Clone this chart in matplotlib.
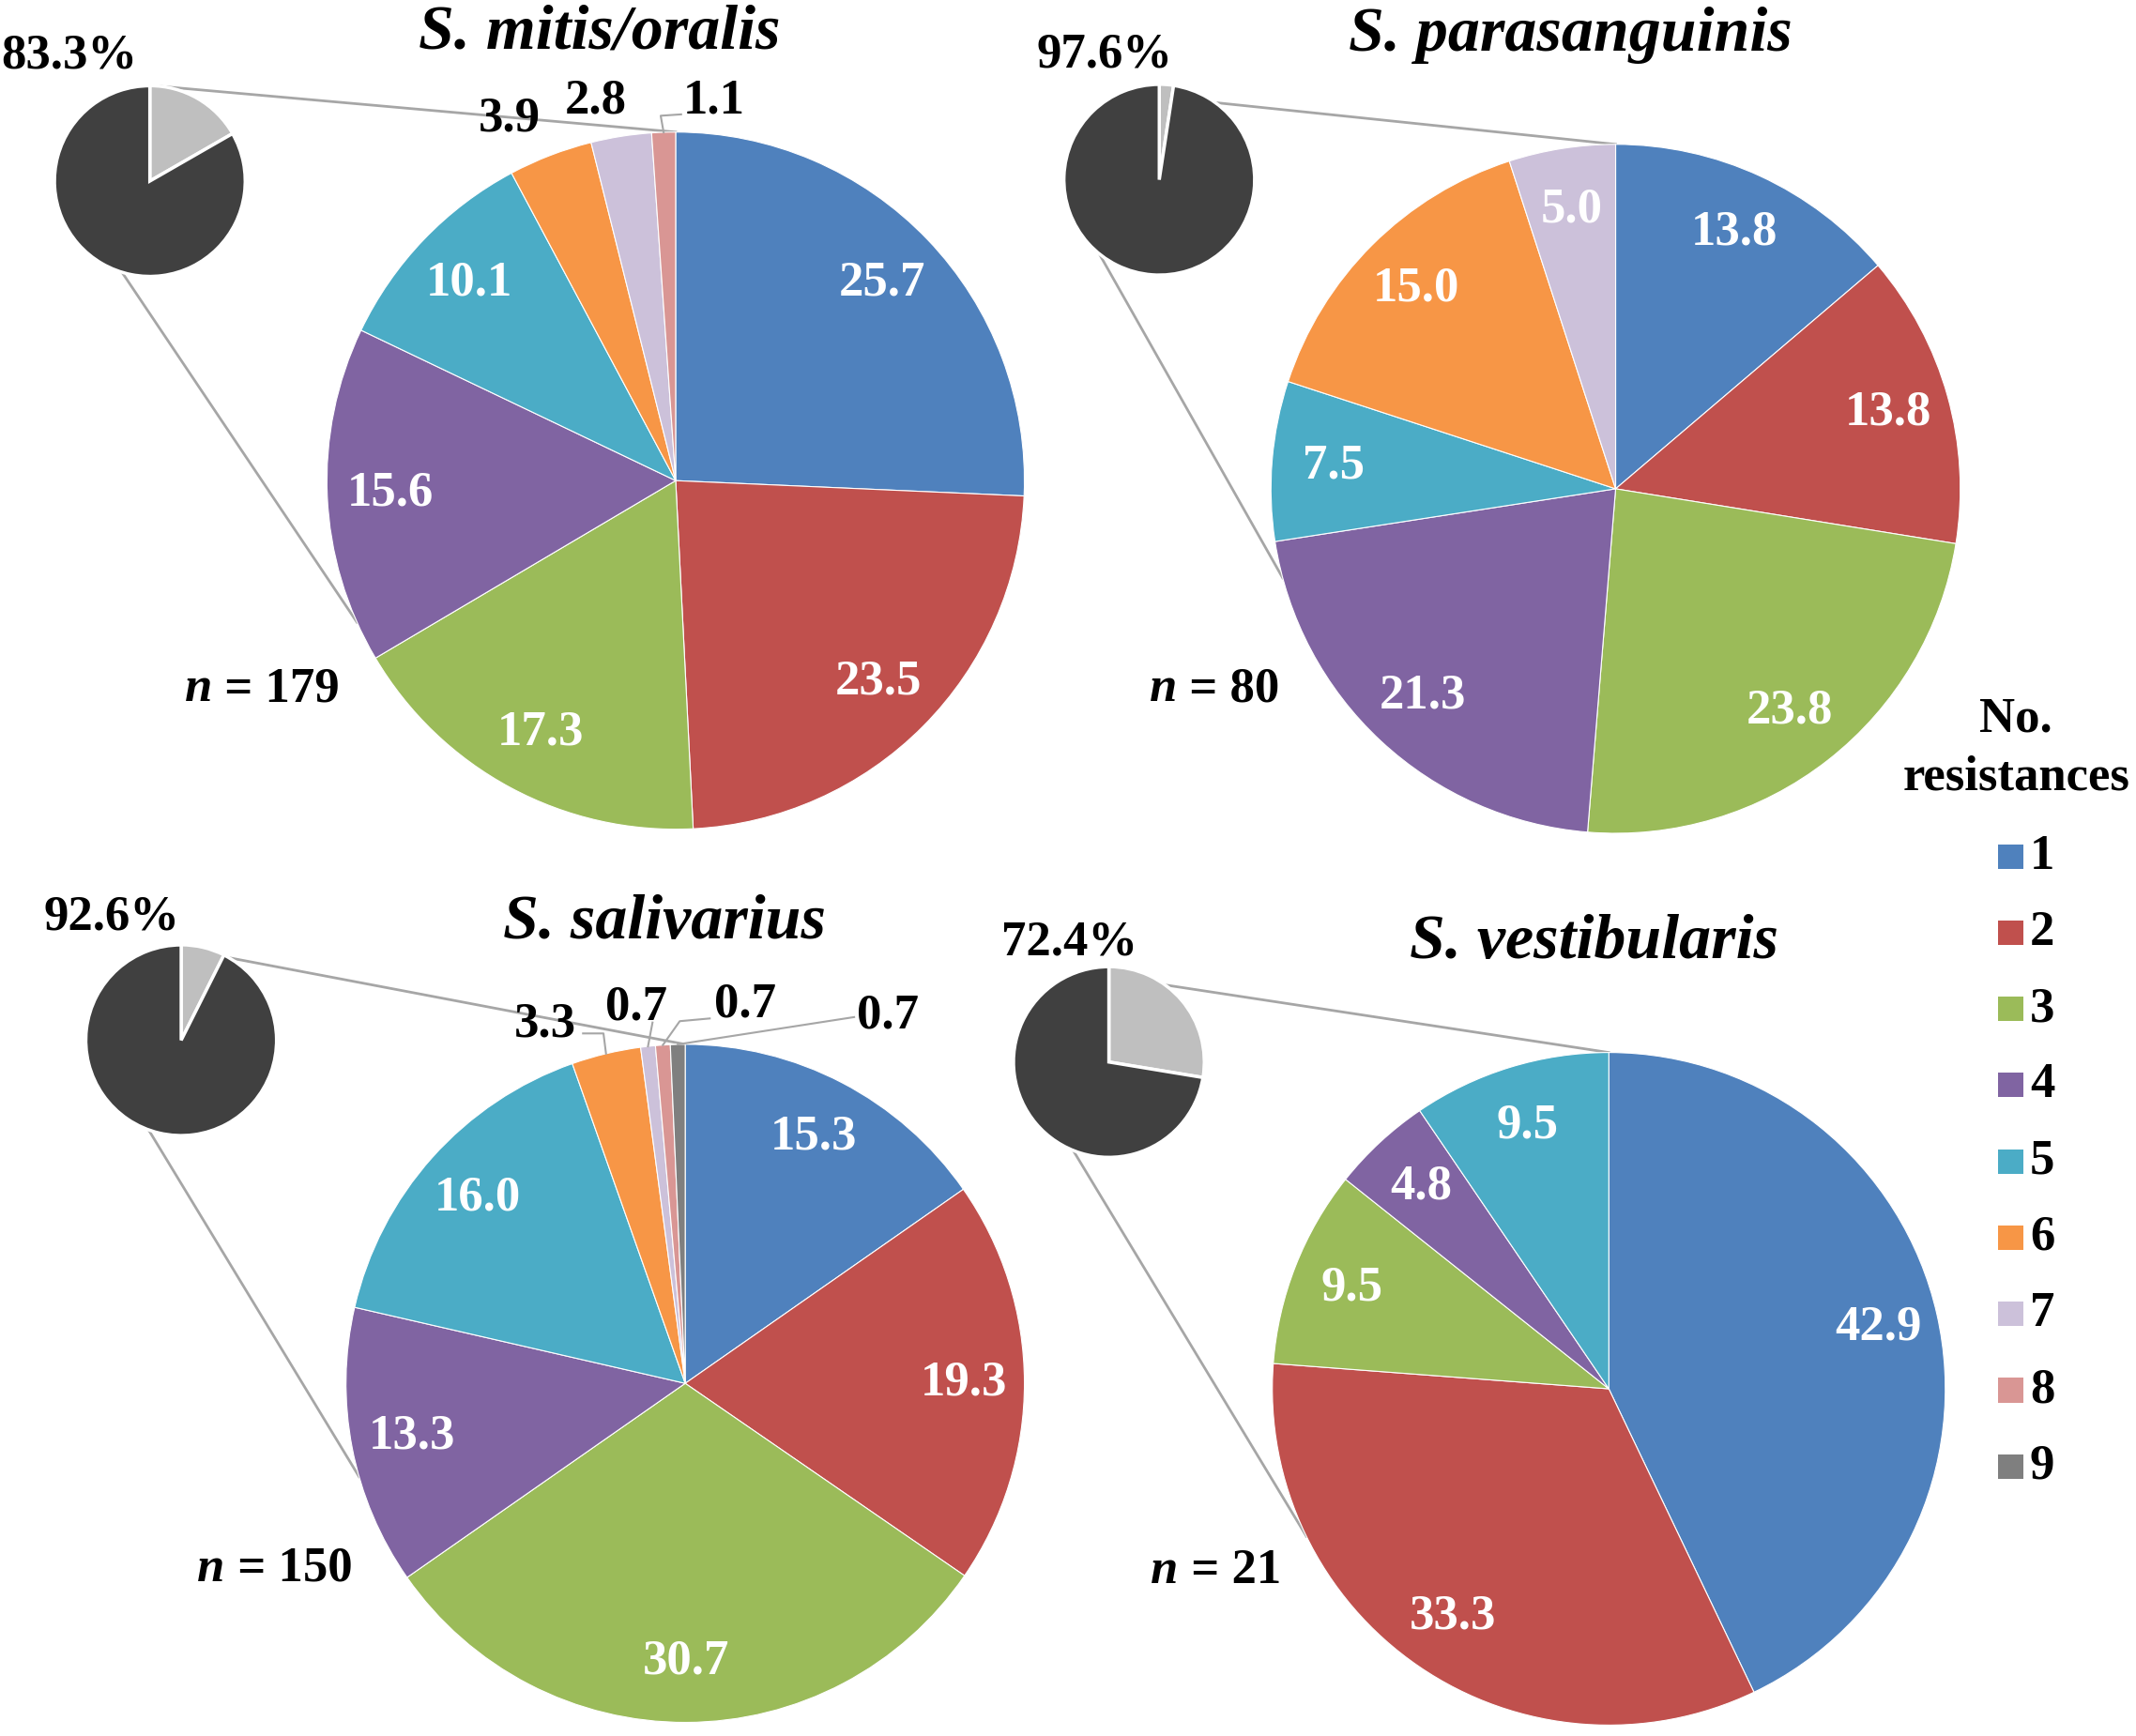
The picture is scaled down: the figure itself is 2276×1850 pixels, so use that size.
import numpy as np
import matplotlib
matplotlib.use("Agg")
import matplotlib.pyplot as plt
from matplotlib.patches import Rectangle

plt.rcParams["font.family"] = ["Liberation Serif", "DejaVu Serif"]
plt.rcParams["font.weight"] = "bold"

# ---- Data ----
CATEGORIES = ["1", "2", "3", "4", "5", "6", "7", "8", "9"]
COLORS = ["#4F81BD", "#C0504D", "#9BBB59", "#8064A2", "#4BACC6",
          "#F79646", "#CCC1DA", "#D99694", "#7F7F7F"]

SPECIES = ["S. mitis/oralis", "S. parasanguinis", "S. salivarius", "S. vestibularis"]
N_ISOLATES = [179, 80, 150, 21]
SUSCEPTIBLE_SHARE = [83.3, 97.6, 92.6, 72.4]  # dark part of the small pies

MITIS = [25.7, 23.5, 17.3, 15.6, 10.1, 3.9, 2.8, 1.1]
PARASANGUINIS = [13.8, 13.8, 23.8, 21.3, 7.5, 15.0, 5.0]
SALIVARIUS = [15.3, 19.3, 30.7, 13.3, 16.0, 3.3, 0.7, 0.7, 0.7]
VESTIBULARIS = [42.9, 33.3, 9.5, 4.8, 9.5]
SERIES = [MITIS, PARASANGUINIS, SALIVARIUS, VESTIBULARIS]

# ---- Layout (reference pixel units, y measured downwards) ----
W, H = 1568, 1275
SMALL_R = 70
PANELS = [
    dict(center=(496, 353), radius=256, small=(110, 133), title=(440, 24),
         pct=(51, 41), n=(156, 506), upper=(86, 90), lower=(-107, -156)),
    dict(center=(1186, 359), radius=253, small=(851, 132), title=(1153, 26),
         pct=(811, 40), n=(864, 506), upper=(54, 90), lower=(-129, -165)),
    dict(center=(503, 1016), radius=249, small=(133, 764), title=(488, 678),
         pct=(82, 674), n=(165, 1152), upper=(60, 90), lower=(-110, -164)),
    dict(center=(1181, 1020), radius=247, small=(814, 780), title=(1170, 692),
         pct=(785, 692), n=(865, 1154), upper=(54, 90), lower=(-112, -154)),
]
# small slices labelled outside: (panel, slice) -> (label position, leader elbow points)
OUTSIDE = {
    (0, 5): ((374, 87), []),
    (0, 6): ((437, 74), []),
    (0, 7): ((524, 74), [(485, 85), (500, 84)]),
    (2, 5): ((400, 752), [(443, 759), (428, 759)]),
    (2, 6): ((467, 740), [(479, 751)]),
    (2, 7): ((547, 738), [(499, 750), (521, 748)]),
    (2, 8): ((652, 746), [(627, 747)]),
}
LINE_GREY = "#A6A6A6"
LABEL_SIZE = 38
TITLE_SIZE = 49


def Y(y):
    return H - y


def polar(cx, cy, r, ang):
    a = np.deg2rad(ang)
    return cx + r * np.cos(a), Y(cy) + r * np.sin(a)


fig = plt.figure(figsize=(22.76, 18.5), dpi=100)
ax = fig.add_axes([0, 0, 1, 1])

for k, (panel, values) in enumerate(zip(PANELS, SERIES)):
    cx, cy = panel["center"]
    R = panel["radius"]
    sx, sy = panel["small"]

    # connector lines between the small pie and the breakdown pie
    for a_small, a_main in (panel["upper"], panel["lower"]):
        p0 = polar(sx, sy, SMALL_R, a_small)
        p1 = polar(cx, cy, R, a_main)
        ax.plot([p0[0], p1[0]], [p0[1], p1[1]], color=LINE_GREY, lw=2, zorder=1)

    # small pie: susceptible vs resistant share
    share = SUSCEPTIBLE_SHARE[k]
    ax.pie([100 - share, share], colors=["#BFBFBF", "#404040"], explode=[0.08, 0],
           startangle=90, counterclock=False, center=(sx, Y(sy)), radius=SMALL_R,
           wedgeprops=dict(edgecolor="white", linewidth=2.5), frame=True)

    # main pie: number of resistances
    wedges, _ = ax.pie(values, colors=COLORS[:len(values)], startangle=90,
                       counterclock=False, center=(cx, Y(cy)), radius=R,
                       wedgeprops=dict(edgecolor="white", linewidth=0.8), frame=True)

    for i, (w, v) in enumerate(zip(wedges, values)):
        mid = (w.theta1 + w.theta2) / 2
        if (k, i) in OUTSIDE:
            (lx, ly), elbow = OUTSIDE[(k, i)]
            ax.text(lx, Y(ly), f"{v:.1f}", ha="center", va="center",
                    fontsize=LABEL_SIZE, color="black", zorder=5)
            if elbow:
                pts = [polar(cx, cy, R, mid)] + [(ex, Y(ey)) for ex, ey in elbow]
                xs, ys = zip(*pts)
                ax.plot(xs, ys, color=LINE_GREY, lw=1.5, zorder=4)
        else:
            tx, ty = polar(cx, cy, 0.82 * R, mid)
            ax.text(tx, ty, f"{v:.1f}", ha="center", va="center",
                    fontsize=LABEL_SIZE, color="white", zorder=5)

    # texts
    ax.text(panel["title"][0], Y(panel["title"][1]), SPECIES[k], ha="center",
            va="center", fontsize=TITLE_SIZE, style="italic")
    ax.text(panel["pct"][0], Y(panel["pct"][1]), f"{share:.1f}%", ha="center",
            va="center", fontsize=LABEL_SIZE)
    nx, ny = panel["n"]
    ax.text(nx, Y(ny), "n", ha="right", va="center", fontsize=LABEL_SIZE, style="italic")
    ax.text(nx, Y(ny), f" = {N_ISOLATES[k]}", ha="left", va="center", fontsize=LABEL_SIZE)

# ---- Legend ----
ax.text(1480, Y(528), "No.", ha="center", va="center", fontsize=LABEL_SIZE)
ax.text(1480, Y(571), "resistances", ha="center", va="center", fontsize=LABEL_SIZE)
for i, (cat, col) in enumerate(zip(CATEGORIES, COLORS)):
    yc = 629 + 56 * i
    ax.add_patch(Rectangle((1467, Y(yc) - 9), 18, 18, facecolor=col, edgecolor="none"))
    ax.text(1490, Y(yc), cat, ha="left", va="center", fontsize=LABEL_SIZE)

ax.set_xlim(0, W)
ax.set_ylim(0, H)
ax.set_aspect("auto")
ax.axis("off")

fig.savefig("out.png", dpi=100, facecolor="white")
